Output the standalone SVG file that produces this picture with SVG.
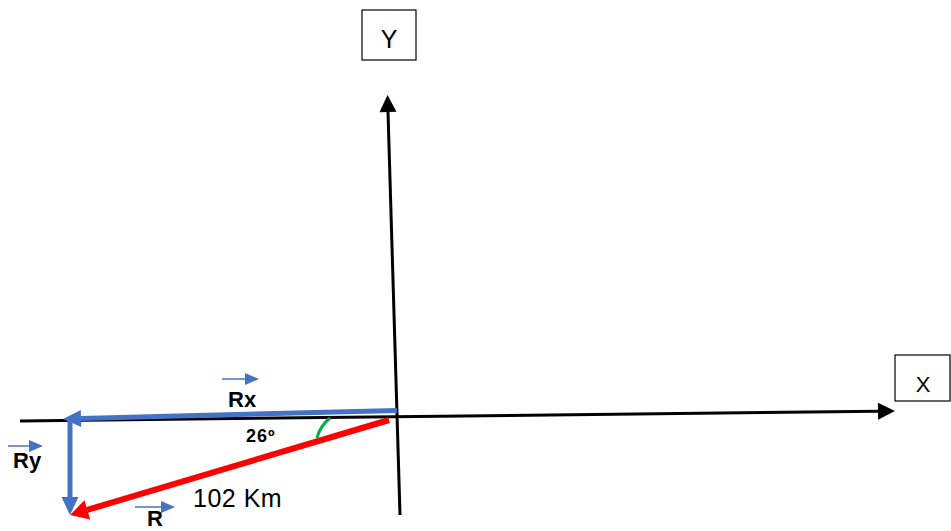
<svg xmlns="http://www.w3.org/2000/svg" width="951" height="531" viewBox="0 0 951 531">
  <style>
    text { font-family: "Liberation Sans", Arial, sans-serif; fill: #000; }
    .lbl { font-weight: bold; font-size: 22px; }
    .box { fill: #fff; stroke: #000; stroke-width: 1.2; }
    .axis { stroke: #000; stroke-width: 3; fill: none; }
    .blue { stroke: #4472C4; stroke-width: 5; fill: none; }
    .red { stroke: #FF0000; stroke-width: 6; fill: none; }
    .small { stroke: #4472C4; stroke-width: 1.5; fill: none; }
  </style>
  <defs>
    <marker id="mBlack" markerUnits="userSpaceOnUse" markerWidth="18" markerHeight="18" refX="0" refY="8.5" orient="auto" overflow="visible">
      <path d="M0,0 L17,8.5 L0,17 z" fill="#000"/>
    </marker>
    <marker id="mBlue" markerUnits="userSpaceOnUse" markerWidth="19" markerHeight="18" refX="0" refY="8.5" orient="auto" overflow="visible">
      <path d="M0,0 L18,8.5 L0,17 z" fill="#4472C4"/>
    </marker>
    <marker id="mRed" markerUnits="userSpaceOnUse" markerWidth="19" markerHeight="20" refX="0" refY="10" orient="auto" overflow="visible">
      <path d="M0,0 L18,10 L0,20 z" fill="#FF0000"/>
    </marker>
    <marker id="mSmall" markerUnits="userSpaceOnUse" markerWidth="15" markerHeight="12" refX="0" refY="6" orient="auto" overflow="visible">
      <path d="M0,0 L14,6 L0,12 z" fill="#4472C4"/>
    </marker>
  </defs>

  <g id="node-Y">
    <rect class="box" x="362" y="10" width="54" height="50"/>
    <text x="389" y="48" font-size="25" text-anchor="middle">Y</text>
  </g>
  <g id="node-X">
    <rect class="box" x="895" y="355" width="55" height="46"/>
    <text x="923" y="392" font-size="22" text-anchor="middle">X</text>
  </g>

  <g id="connectors">
    <line id="x-axis" class="axis" x1="20" y1="421" x2="878" y2="411.2" marker-end="url(#mBlack)"/>
    <line id="y-axis" class="axis" x1="400" y1="515" x2="388" y2="112" marker-end="url(#mBlack)"/>
    <line id="vec-Rx" class="blue" x1="397" y1="410.5" x2="81" y2="418.5" marker-end="url(#mBlue)"/>
    <line id="vec-Ry" class="blue" x1="70" y1="421" x2="70" y2="497" marker-end="url(#mBlue)"/>
    <line id="vec-R" class="red" x1="389" y1="420" x2="87.3" y2="509.9" marker-end="url(#mRed)"/>
    <path id="angle-arc" d="M330,418 Q320,426 317,438" stroke="#00B050" stroke-width="3" fill="none"/>
  </g>

  <g id="label-Rx">
    <line class="small" x1="222" y1="379" x2="245" y2="379" marker-end="url(#mSmall)"/>
    <text class="lbl" x="228" y="407">Rx</text>
  </g>
  <g id="label-Ry">
    <line class="small" x1="8" y1="446" x2="29" y2="446" marker-end="url(#mSmall)"/>
    <text class="lbl" x="13" y="468">Ry</text>
  </g>
  <g id="label-R">
    <line class="small" x1="135" y1="507" x2="161" y2="507" marker-end="url(#mSmall)"/>
    <text class="lbl" x="147" y="526">R</text>
  </g>
  <g id="label-angle">
    <text x="246" y="442" font-size="18" font-weight="bold" letter-spacing="1">26º</text>
  </g>
  <g id="label-magnitude">
    <text x="193" y="507" font-size="25" letter-spacing="0.5">102 Km</text>
  </g>
</svg>
